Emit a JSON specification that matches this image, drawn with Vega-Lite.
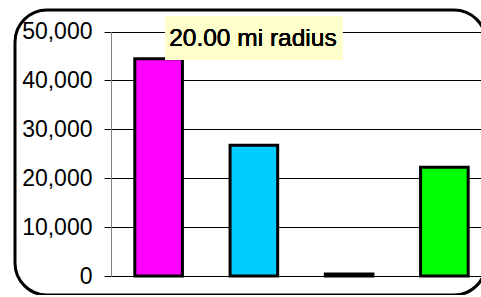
{
  "$schema": "https://vega.github.io/schema/vega-lite/v6.json",
  "autosize": {"type": "none"},
  "width": 471,
  "height": 285,
  "padding": {"left": 15, "top": 10, "right": 0, "bottom": 0},
  "background": "white",
  "config": {
    "view": {"stroke": "black", "strokeWidth": 3, "cornerRadius": 32, "fill": "white"},
    "font": "Liberation Sans"
  },
  "data": {
    "values": [
      {"cat": "A", "value": 44450, "color": "#FF00FF"},
      {"cat": "B", "value": 26750, "color": "#00CCFF"},
      {"cat": "C", "value": 400, "color": "#FFFF00"},
      {"cat": "D", "value": 22250, "color": "#00FF00"}
    ]
  },
  "layer": [
    {
      "mark": {"type": "bar", "stroke": "black", "strokeWidth": 3},
      "encoding": {
        "x": {
          "field": "cat", "type": "nominal",
          "scale": {"range": [96, 477], "paddingInner": 0.5, "paddingOuter": 0.25},
          "axis": null
        },
        "y": {
          "field": "value", "type": "quantitative",
          "scale": {"domain": [0, 50000], "range": [266, 21.5], "nice": false},
          "axis": {
            "values": [0, 10000, 20000, 30000, 40000, 50000],
            "format": ",.0f",
            "title": null,
            "offset": -96,
            "tickSize": 7,
            "tickColor": "black",
            "tickWidth": 1,
            "domainColor": "#808080",
            "domainWidth": 1,
            "grid": true,
            "gridColor": "black",
            "gridWidth": 1,
            "gridOpacity": 1,
            "labelFont": "Liberation Sans",
            "labelFontSize": 23,
            "labelColor": "black",
            "labelPadding": 12
          }
        },
        "fill": {"field": "color", "type": "nominal", "scale": null}
      }
    },
    {
      "mark": {"type": "rect", "fill": "#FFFFCC", "width": 177, "height": 44},
      "encoding": {
        "x": {"datum": "B", "type": "nominal"},
        "y": {"datum": 48670, "type": "quantitative"}
      }
    },
    {
      "mark": {"type": "text", "font": "Liberation Sans", "fontSize": 24.5, "color": "black", "baseline": "alphabetic", "align": "center", "dx": -1},
      "encoding": {
        "x": {"datum": "B", "type": "nominal"},
        "y": {"datum": 47100, "type": "quantitative"},
        "text": {"datum": "20.00 mi radius"}
      }
    }
  ]
}
